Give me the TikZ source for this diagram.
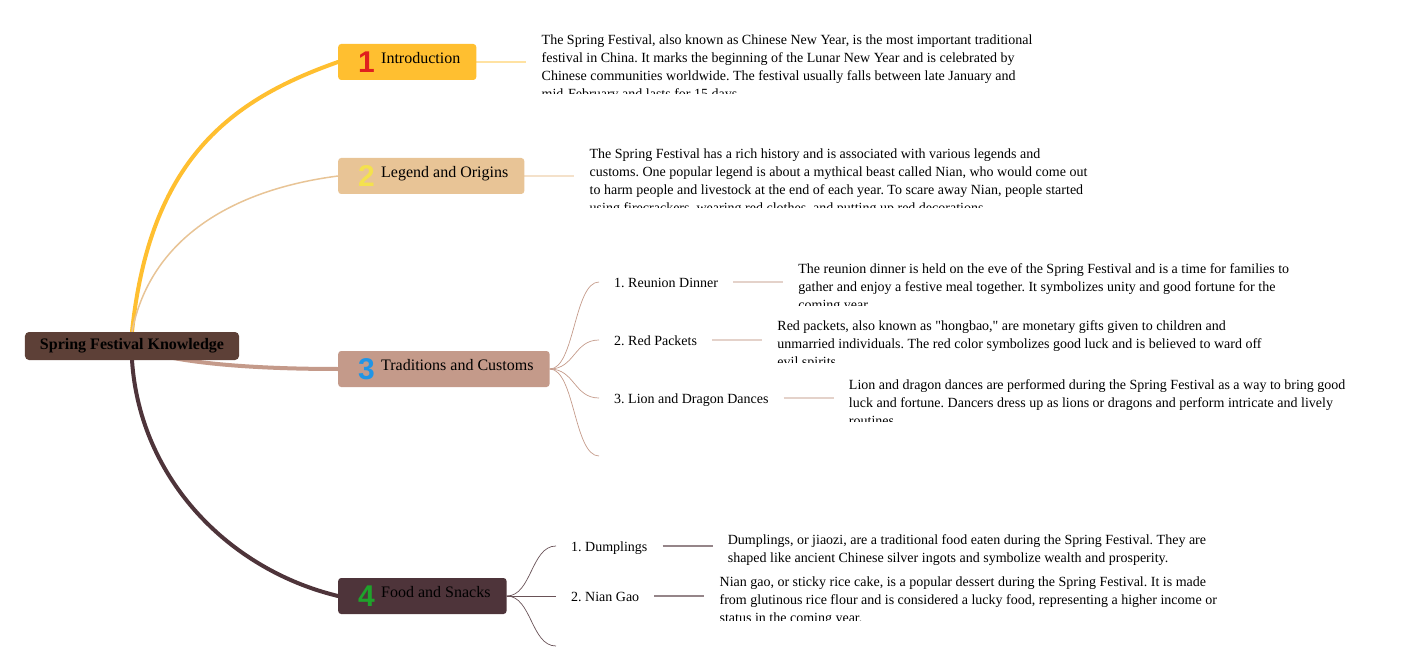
\documentclass[tikz,border=0pt]{standalone}
\usepackage{fontspec}
\setmainfont{Liberation Serif}[Ligatures=TeXOff]
\newfontfamily\numfont{Liberation Sans}
\usetikzlibrary{positioning,calc,backgrounds}
\frenchspacing
\definecolor{rootc}{HTML}{5D4037}
\definecolor{introc}{HTML}{FFBF30}
\definecolor{legendc}{HTML}{E8C496}
\definecolor{tradc}{HTML}{C49A8A}
\definecolor{foodc}{HTML}{4E343A}
\definecolor{numred}{HTML}{E0201E}
\definecolor{numyellow}{HTML}{F4E14E}
\definecolor{numblue}{HTML}{2195E6}
\definecolor{numgreen}{HTML}{1FA22B}
\tikzset{
  rootbox/.style={fill=rootc, rounded corners=4pt, minimum height=28pt, inner xsep=15pt,
    inner ysep=0pt, font=\bfseries\fontsize{16}{19}\selectfont},
  topicbox/.style={rounded corners=3pt, minimum height=36pt, inner xsep=16pt, inner ysep=0pt,
    anchor=west, font=\fontsize{16}{19}\selectfont},
  subtopic/.style={anchor=west, inner xsep=15pt, inner ysep=0pt, text height=11pt,
    text depth=0pt, font=\fontsize{14}{17}\selectfont},
  detail/.style={anchor=north west, align=left, inner xsep=15pt, inner ysep=0pt,
    font=\fontsize{14}{18}\selectfont},
  mainbranch/.style={line width=4pt, line cap=round},
  leafbranch/.style={line width=0.7pt},
  leaflink/.style={line width=1.6pt},
}
\newcommand\topicnum[2]{\makebox[27pt][l]{\hspace{4pt}\raisebox{-8.5pt}{\color{#1}\numfont\bfseries\fontsize{30}{30}\selectfont #2}}}

\begin{document}
\begin{tikzpicture}[x=1pt, y=-1pt]
  \useasboundingbox (0,0) rectangle (1409,671);
  % root and main topics
  \node[rootbox] (root) at (132,346) {Spring Festival Knowledge};
  \node[topicbox, fill=introc] (intro) at (338,62) {\topicnum{numred}{1}Introduction};
  \node[topicbox, fill=legendc] (legend) at (338,176) {\topicnum{numyellow}{2}Legend and Origins};
  \node[topicbox, fill=tradc] (trad) at (338,369) {\topicnum{numblue}{3}Traditions and Customs};
  \node[topicbox, fill=foodc] (food) at (338,596) {\topicnum{numgreen}{4}Food and Snacks};

  % sub topics
  \node[subtopic] (dinner) at (599,282) {1. Reunion Dinner};
  \node[subtopic] (packets) at (599,340) {2. Red Packets};
  \node[subtopic] (dances) at (599,398) {3. Lion and Dragon Dances};
  \coordinate (tradend) at (599,456);
  \node[subtopic] (dumplings) at (556,546) {1. Dumplings};
  \node[subtopic] (niangao) at (556,596) {2. Nian Gao};
  \coordinate (foodend) at (556,646);

  % detail texts, cut off at the bottom
  \coordinate (introtxt) at ($(intro.east)+(50,0)$);
  \begin{scope}
    \clip ($(introtxt)+(0,-40)$) rectangle ($(introtxt)+(600,32)$);
    \node[detail] (introdet) at ($(introtxt)+(0,-31)$) {\rule{0pt}{13pt}The Spring Festival, also known as Chinese New Year, is the most important traditional\\festival in China. It marks the beginning of the Lunar New Year and is celebrated by\\Chinese communities worldwide. The festival usually falls between late January and\\mid-February and lasts for 15 days.};
  \end{scope}
  \coordinate (legendtxt) at ($(legend.east)+(50,0)$);
  \begin{scope}
    \clip ($(legendtxt)+(0,-40)$) rectangle ($(legendtxt)+(600,32)$);
    \node[detail] (legenddet) at ($(legendtxt)+(0,-31)$) {\rule{0pt}{13pt}The Spring Festival has a rich history and is associated with various legends and\\customs. One popular legend is about a mythical beast called Nian, who would come out\\to harm people and livestock at the end of each year. To scare away Nian, people started\\using firecrackers, wearing red clothes, and putting up red decorations.};
  \end{scope}
  \coordinate (dinnertxt) at ($(dinner.east)+(50,0)$);
  \begin{scope}
    \clip ($(dinnertxt)+(0,-30)$) rectangle ($(dinnertxt)+(600,23)$);
    \node[detail] (dinnerdet) at ($(dinnertxt)+(0,-22)$) {\rule{0pt}{13pt}The reunion dinner is held on the eve of the Spring Festival and is a time for families to\\gather and enjoy a festive meal together. It symbolizes unity and good fortune for the\\coming year.};
  \end{scope}
  \coordinate (packetstxt) at ($(packets.east)+(50,0)$);
  \begin{scope}
    \clip ($(packetstxt)+(0,-30)$) rectangle ($(packetstxt)+(600,22)$);
    \node[detail] (packetsdet) at ($(packetstxt)+(0,-23)$) {\rule{0pt}{13pt}Red packets, also known as "hongbao," are monetary gifts given to children and\\unmarried individuals. The red color symbolizes good luck and is believed to ward off\\evil spirits.};
  \end{scope}
  \coordinate (dancestxt) at ($(dances.east)+(50,0)$);
  \begin{scope}
    \clip ($(dancestxt)+(0,-30)$) rectangle ($(dancestxt)+(600,23)$);
    \node[detail] (dancesdet) at ($(dancestxt)+(0,-22)$) {\rule{0pt}{13pt}Lion and dragon dances are performed during the Spring Festival as a way to bring good\\luck and fortune. Dancers dress up as lions or dragons and perform intricate and lively\\routines.};
  \end{scope}
  \coordinate (dumplingstxt) at ($(dumplings.east)+(50,0)$);
  \begin{scope}
    \clip ($(dumplingstxt)+(0,-25)$) rectangle ($(dumplingstxt)+(600,18)$);
    \node[detail] (dumplingsdet) at ($(dumplingstxt)+(0,-15)$) {\rule{0pt}{13pt}Dumplings, or jiaozi, are a traditional food eaten during the Spring Festival. They are\\shaped like ancient Chinese silver ingots and symbolize wealth and prosperity.};
  \end{scope}
  \coordinate (niangaotxt) at ($(niangao.east)+(50,0)$);
  \begin{scope}
    \clip ($(niangaotxt)+(0,-30)$) rectangle ($(niangaotxt)+(600,24)$);
    \node[detail] (niangaodet) at ($(niangaotxt)+(0,-23)$) {\rule{0pt}{13pt}Nian gao, or sticky rice cake, is a popular dessert during the Spring Festival. It is made\\from glutinous rice flour and is considered a lucky food, representing a higher income or\\status in the coming year.};
  \end{scope}

  % connectors
  \begin{scope}[on background layer]
    \draw[mainbranch, introc] (root.north) .. controls (150,160) and (230,100) .. (intro.west);
    \draw[line width=1.5pt, legendc] (root.north) .. controls (150,240) and (230,190) .. (legend.west);
    \draw[mainbranch, tradc] (root.center) .. controls (170,364) and (260,369) .. (trad.west);
    \draw[mainbranch, foodc] (root.south) .. controls (140,480) and (230,570) .. (food.west);
    \draw[leaflink, introc!45] (intro.east) -- (introtxt);
    \draw[leaflink, legendc!50] (legend.east) -- (legendtxt);
    \foreach \sub in {dinner, packets, dances}
      \draw[leafbranch, tradc] (trad.east) .. controls +(25,0) and +(-25,0) .. (\sub.west);
    \draw[leafbranch, tradc] (trad.east) .. controls +(25,0) and +(-25,0) .. (tradend);
    \foreach \sub in {dinner, packets, dances}
      \draw[leaflink, tradc!45] (\sub.east) -- (\sub txt);
    \foreach \sub in {dumplings, niangao}
      \draw[leafbranch, foodc!85] (food.east) .. controls +(25,0) and +(-25,0) .. (\sub.west);
    \draw[leafbranch, foodc!85] (food.east) .. controls +(25,0) and +(-25,0) .. (foodend);
    \foreach \sub in {dumplings, niangao}
      \draw[leaflink, foodc!60] (\sub.east) -- (\sub txt);
  \end{scope}
\end{tikzpicture}
\end{document}
